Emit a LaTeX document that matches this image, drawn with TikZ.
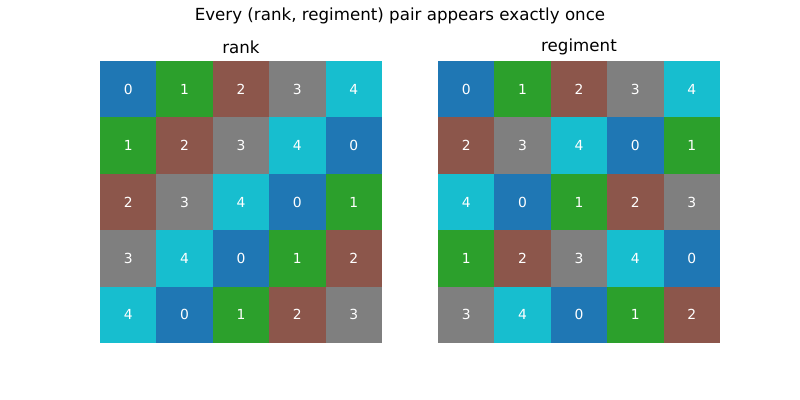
\documentclass[tikz,border=0pt]{standalone}
\usepackage{fontspec}
\setmainfont{DejaVu Sans}
\usetikzlibrary{positioning}
\definecolor{c0}{HTML}{1F77B4}
\definecolor{c1}{HTML}{2CA02C}
\definecolor{c2}{HTML}{8C564B}
\definecolor{c3}{HTML}{7F7F7F}
\definecolor{c4}{HTML}{17BECF}
\begin{document}
\begin{tikzpicture}[x=0.75pt,y=-0.75pt,
                    cell/.style={minimum size=42.3pt,inner sep=0pt,text=white,font=\fontsize{10.4}{12}\selectfont},
                    head/.style={font=\fontsize{12.5}{14}\selectfont}
                   ]
  \useasboundingbox (0,0) rectangle (800,400);
  \node[head] (title) at (400,16) {Every (rank, regiment) pair appears exactly once};
  \node[head] (rank) at (241,47) {rank};
  \node[head] (regiment) at (579,47) {regiment};
  % left grid: rank
  \foreach \r in {0,...,4}
    \foreach \c in {0,...,4}{
      \pgfmathtruncatemacro{\v}{mod(\r+\c,5)}
      \node[cell,fill=c\v] (a\r\c) at ({100+28.2+56.4*\c},{61+28.2+56.4*\r}) {\v};
    }
  % right grid: regiment
  \foreach \r in {0,...,4}
    \foreach \c in {0,...,4}{
      \pgfmathtruncatemacro{\v}{mod(2*\r+\c,5)}
      \node[cell,fill=c\v] (b\r\c) at ({438+28.2+56.4*\c},{61+28.2+56.4*\r}) {\v};
    }
\end{tikzpicture}
\end{document}
